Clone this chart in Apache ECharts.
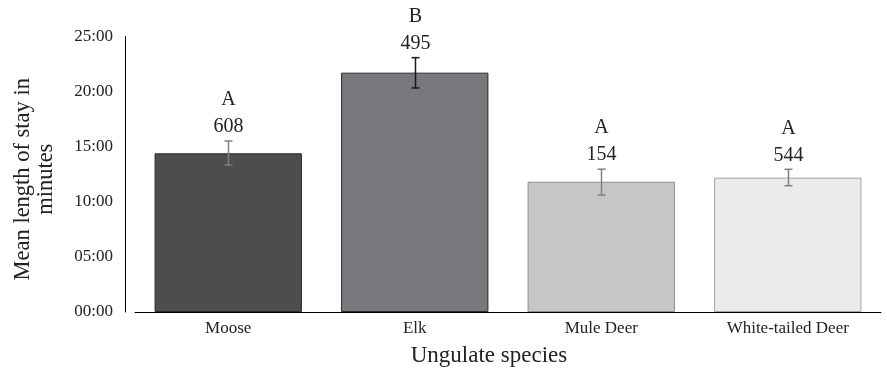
<!DOCTYPE html>
<html>
<head>
<meta charset="utf-8">
<script src="https://cdn.jsdelivr.net/npm/echarts@6/dist/echarts.min.js"></script>
<style>html,body{margin:0;padding:0;background:#fff;}#c{width:887px;height:371px;}</style>
</head>
<body>
<div id="c"></div>
<script>
// Data
var categories = ['Moose', 'Elk', 'Mule Deer', 'White-tailed Deer'];
var meanMinutes = [14.40, 21.72, 11.82, 12.19];
var errLow = [13.34, 20.33, 10.62, 11.46];
var errHigh = [15.52, 23.08, 12.96, 12.95];
var sampleSizes = ['608', '495', '154', '544'];
var groupLetters = ['A', 'B', 'A', 'A'];

// Styles
var barFill = ['#4d4d4f', '#77787b', '#c5c6c8', '#eaebeb'];
var barBorder = ['#2a2a2a', '#2a2a2a', '#8c8c8c', '#a4a4a4'];
var errColor = ['#808080', '#1a1a1a', '#808080', '#808080'];
var FONT = '"Liberation Serif", "Times New Roman", serif';

var chart = echarts.init(document.getElementById('c'), null, {renderer: 'canvas'});

var errData = categories.map(function (c, i) { return [i, errLow[i], errHigh[i]]; });

chart.setOption({
  animation: false,
  textStyle: {fontFamily: FONT},
  grid: {left: 135, right: 6, top: 36.5, bottom: 59, containLabel: false, outerBoundsMode: 'none'},
  xAxis: {
    type: 'category',
    data: categories,
    axisLine: {lineStyle: {color: '#000', width: 1}},
    axisTick: {show: false},
    axisLabel: {color: '#222', fontSize: 17, fontFamily: FONT, margin: 8},
    name: 'Ungulate species',
    nameLocation: 'middle',
    nameGap: 32,
    nameTextStyle: {color: '#222', fontSize: 23, fontFamily: FONT, padding: [0, 38, 0, 0]}
  },
  yAxis: {
    type: 'value',
    min: 0,
    max: 25,
    interval: 5,
    offset: 10,
    axisLine: {show: true, lineStyle: {color: '#000', width: 1}},
    axisTick: {show: false},
    splitLine: {show: false},
    axisLabel: {
      color: '#222', fontSize: 17, fontFamily: FONT, margin: 12,
      formatter: function (v) { var m = Math.round(v); return (m < 10 ? '0' : '') + m + ':00'; }
    },
    name: 'Mean length of stay in\nminutes',
    nameLocation: 'middle',
    nameRotate: 90,
    nameGap: 67,
    nameTextStyle: {color: '#222', fontSize: 22.5, fontFamily: FONT, lineHeight: 23, padding: [0, 10, 0, 0]}
  },
  series: [
    {
      type: 'bar',
      barCategoryGap: '21%',
      data: meanMinutes.map(function (v, i) {
        return {value: v, itemStyle: {color: barFill[i], borderColor: barBorder[i], borderWidth: 1}};
      })
    },
    {
      type: 'custom',
      data: errData,
      z: 10,
      renderItem: function (params, api) {
        var i = api.value(0);
        var lo = api.coord([i, api.value(1)]);
        var hi = api.coord([i, api.value(2)]);
        var x = Math.round(lo[0]) + 0.5;
        var col = errColor[i];
        var cap = 4;
        return {
          type: 'group',
          children: [
            {type: 'line', shape: {x1: x, y1: hi[1], x2: x, y2: lo[1]}, style: {stroke: col, lineWidth: 1.5}},
            {type: 'line', shape: {x1: x - cap, y1: hi[1], x2: x + cap, y2: hi[1]}, style: {stroke: col, lineWidth: 1.5}},
            {type: 'line', shape: {x1: x - cap, y1: lo[1], x2: x + cap, y2: lo[1]}, style: {stroke: col, lineWidth: 1.5}},
            {type: 'text', x: x, y: hi[1] - 14, style: {text: sampleSizes[i], fill: '#222', font: '20px ' + FONT, align: 'center', verticalAlign: 'middle'}},
            {type: 'text', x: x, y: hi[1] - 41, style: {text: groupLetters[i], fill: '#222', font: '20px ' + FONT, align: 'center', verticalAlign: 'middle'}}
          ]
        };
      }
    }
  ]
});

// extend the category axis baseline left to the offset value axis and right to the edge, as in the original
var left = chart.convertToPixel({gridIndex: 0}, [-0.5, 0]);
var right = chart.convertToPixel({gridIndex: 0}, [categories.length - 0.5, 0]);
var yb = Math.round(left[1]) + 0.5;
chart.setOption({
  graphic: [
    {type: 'line', silent: true, z: 5, shape: {x1: left[0] - 10, y1: yb, x2: left[0], y2: yb}, style: {stroke: '#000', lineWidth: 1}},
    {type: 'line', silent: true, z: 5, shape: {x1: right[0], y1: yb, x2: 887, y2: yb}, style: {stroke: '#000', lineWidth: 1}}
  ]
});
</script>
</body>
</html>
